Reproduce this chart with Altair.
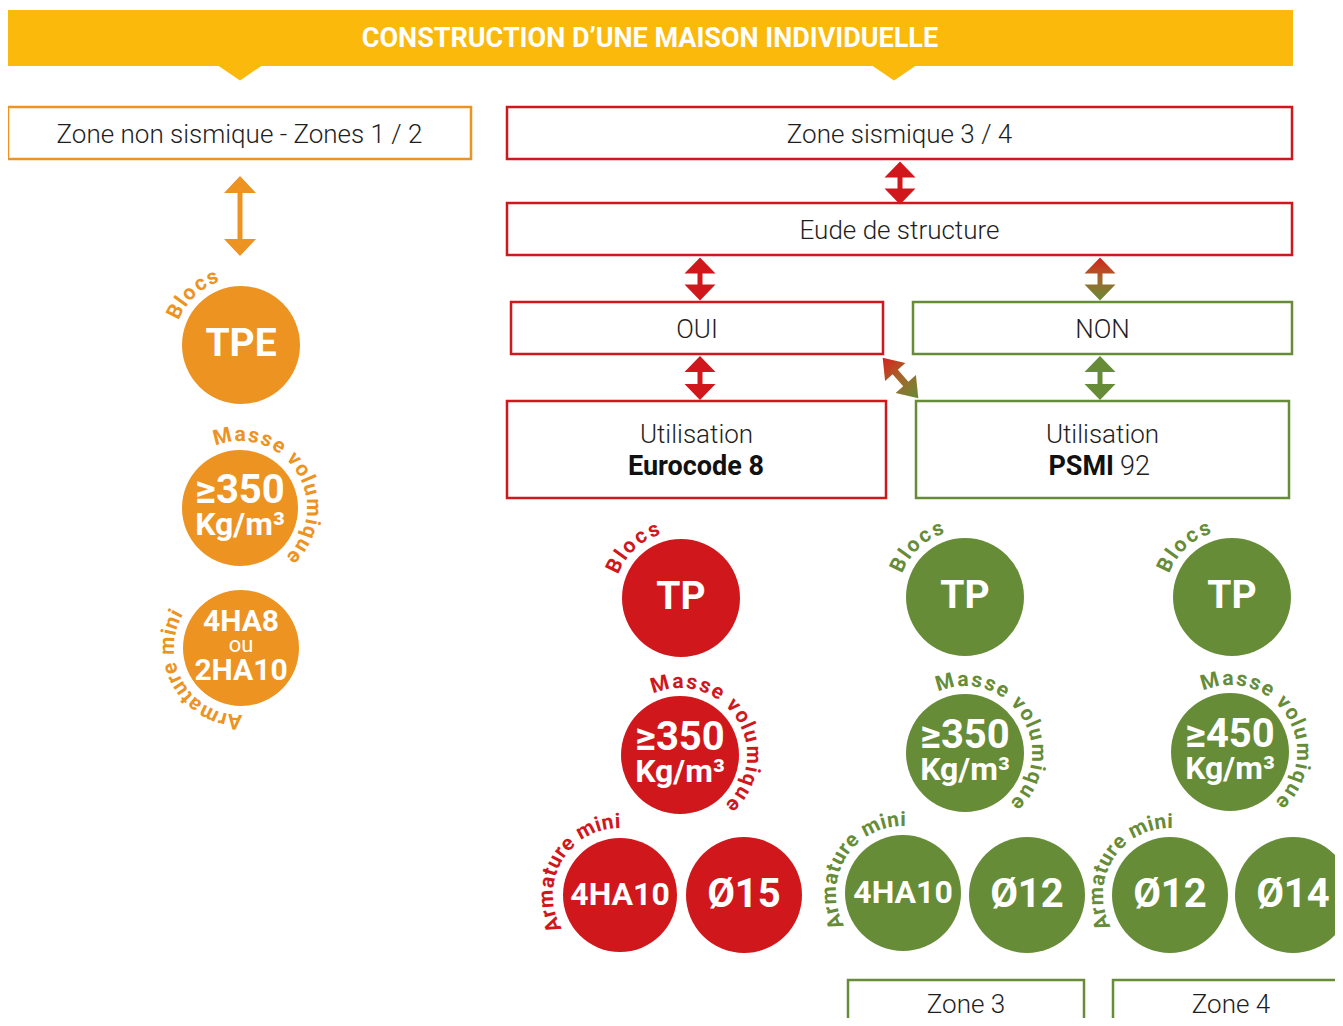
import math
import altair as alt
import pandas as pd

# ---------------- colours ----------------
ORANGE = "#EC9322"
RED = "#D0171C"
GREEN = "#668C38"
YELLOW = "#FBBA0B"
INK = "#1E1E1E"

# ---------------- content (texts / values) ----------------
title_text = "CONSTRUCTION D\u2019UNE MAISON INDIVIDUELLE"

box_labels = ["Zone non sismique - Zones 1 / 2", "Zone sismique 3 / 4", "Eude de structure",
              "OUI", "NON", "Utilisation", "Utilisation", "Zone 3", "Zone 4"]
box_colors = [ORANGE, RED, RED, RED, GREEN, RED, GREEN, GREEN, GREEN]
bold_labels = ["Eurocode 8", "PSMI"]
regular_labels = ["92"]

circle_colors = [ORANGE, ORANGE, ORANGE, RED, RED, RED, RED,
                 GREEN, GREEN, GREEN, GREEN, GREEN, GREEN, GREEN, GREEN]
circle_lines = [["TPE"], ["\u2265350", "Kg/m\u00b3"], ["4HA8", "ou", "2HA10"],
                ["TP"], ["\u2265350", "Kg/m\u00b3"], ["4HA10"], ["\u00d815"],
                ["TP"], ["\u2265350", "Kg/m\u00b3"], ["4HA10"], ["\u00d812"],
                ["TP"], ["\u2265450", "Kg/m\u00b3"], ["\u00d812"], ["\u00d814"]]

curve_labels = ["Blocs", "Masse volumique", "Armature mini",
                "Blocs", "Masse volumique", "Armature mini",
                "Blocs", "Masse volumique", "Armature mini",
                "Blocs", "Masse volumique", "Armature mini"]
curve_circle = [0, 1, 2, 3, 4, 5, 7, 8, 9, 11, 12, 13]

# ---------------- layout ----------------
W, H = 1327, 1010
XS = alt.Scale(domain=[8, 8 + W], nice=False, zero=False)
YS = alt.Scale(domain=[8, 8 + H], nice=False, zero=False, reverse=True)

box_x = [8, 507, 507, 511, 913, 507, 916, 848, 1113]
box_x2 = [471, 1292, 1292, 883, 1292, 886, 1289, 1084, 1352]
box_y = [107, 107, 203, 302, 302, 401, 401, 980, 980]
box_y2 = [159, 159, 255, 354, 354, 498, 498, 1045, 1045]
box_ty = [135, 135, 231, 330, 330, 435, 435, 1005, 1005]

circle_x = [241, 240, 241, 681, 680, 620, 744, 965, 965, 903, 1027, 1232, 1230, 1170, 1293]
circle_y = [345, 508, 648, 598, 755, 895, 895, 597, 753, 893, 895, 597, 752, 895, 895]
circle_r = [59, 58, 58, 59, 59, 57, 58, 59, 59, 58, 58, 59, 59, 58, 58]

curve_start = [207, 256, 95, 206, 254, 156, 206, 254, 157, 206, 254, 158]
curve_end = [247, 402, 208, 248, 403, 268, 248, 403, 270, 248, 403, 270]
curve_radius = 73
curve_size = 21

# per-line text style inside circles: (dy, size, bold)
def line_styles(lines):
    if len(lines) == 3:
        return [(-26, 30, True), (-3, 22, False), (23, 30, True)]
    if len(lines) == 2:
        return [(-17, 40, True), (17, 32, True)]
    t = lines[0]
    if t.startswith("\u00d8"):
        return [(0, 40, True)]
    if t.startswith("4HA"):
        return [(0, 32, True)]
    return [(-1, 39, True)]


def X(f="x"):
    return alt.X(f"{f}:Q", scale=XS, axis=None)


def Y(f="y"):
    return alt.Y(f"{f}:Q", scale=YS, axis=None)


def arrow_path(length, head_w, head_h, shaft_w):
    s = length / 2.0
    a = head_w / 2.0 / s
    b = 1 - head_h / s
    c = shaft_w / 2.0 / s
    pts = [(0, -1), (a, -b), (c, -b), (c, b), (a, b), (0, 1),
           (-a, b), (-c, b), (-c, -b), (-a, -b)]
    return "M" + "L".join(f"{px:.4f},{py:.4f}" for px, py in pts) + "Z"


layers = []

# banner
banner = pd.DataFrame({"x": [8], "x2": [1293], "y": [10], "y2": [66]})
layers.append(alt.Chart(banner).mark_rect(color=YELLOW).encode(
    x=X(), x2="x2:Q", y=Y(), y2="y2:Q"))
tri = pd.DataFrame({"x": [240, 894], "y": [66, 66]})
layers.append(alt.Chart(tri).mark_point(
    shape="M-1,-0.1L1,-0.1L0,0.58Z", filled=True, color=YELLOW, opacity=1,
    strokeWidth=0, size=2500).encode(x=X(), y=Y()))
layers.append(alt.Chart(pd.DataFrame({"t": [title_text], "x": [650], "y": [39]})).mark_text(
    font="Roboto", fontWeight="bold", fontSize=27, color="white", baseline="middle",
    align="center").encode(x=X(), y=Y(), text="t:N"))

# boxes
boxes = pd.DataFrame({"x": box_x, "x2": box_x2, "y": box_y, "y2": box_y2,
                      "col": box_colors, "t": box_labels, "ty": box_ty,
                      "tx": [(a + min(b, 1350)) / 2 for a, b in zip(box_x, box_x2)]})
boxes.loc[8, "tx"] = 1231
layers.append(alt.Chart(boxes).mark_rect(fill="white", strokeWidth=2.5).encode(
    x=X(), x2="x2:Q", y=Y(), y2="y2:Q", stroke=alt.Stroke("col:N", scale=None)))
layers.append(alt.Chart(boxes).mark_text(
    font="Roboto", fontWeight=300, fontSize=26, color=INK, baseline="middle", align="center"
).encode(x=X("tx"), y=Y("ty"), text="t:N"))

bold_df = pd.DataFrame({"t": bold_labels, "x": [696, 1114], "y": [467, 467]})
layers.append(alt.Chart(bold_df.iloc[[0]]).mark_text(
    font="Roboto", fontWeight="bold", fontSize=27, color="#111", baseline="middle",
    align="center").encode(x=X(), y=Y(), text="t:N"))
layers.append(alt.Chart(bold_df.iloc[[1]]).mark_text(
    font="Roboto", fontWeight="bold", fontSize=27, color="#111", baseline="middle",
    align="right").encode(x=X(), y=Y(), text="t:N"))
layers.append(alt.Chart(pd.DataFrame({"t": regular_labels, "x": [1120], "y": [467]})).mark_text(
    font="Roboto", fontWeight=300, fontSize=27, color=INK, baseline="middle",
    align="left").encode(x=X(), y=Y(), text="t:N"))

# solid arrows
arrows = pd.DataFrame({
    "x": [240, 900, 700, 700, 1100],
    "y": [216, 183, 279, 378, 378],
    "shape": [arrow_path(80, 32, 17, 5), arrow_path(43, 31, 16, 5), arrow_path(43, 31, 16, 5),
              arrow_path(44, 31, 16, 5), arrow_path(44, 31, 16, 5)],
    "len": [80, 43, 43, 44, 44],
    "col": [ORANGE, RED, RED, RED, GREEN],
})
arrows["size"] = arrows["len"] ** 2
layers.append(alt.Chart(arrows).mark_point(filled=True, opacity=1, strokeWidth=0).encode(
    x=X(), y=Y(), shape=alt.Shape("shape:N", scale=None),
    size=alt.Size("size:Q", scale=None), color=alt.Color("col:N", scale=None)))

grad = alt.LinearGradient(gradient="linear", x1=0, y1=0, x2=0, y2=1,
                          stops=[alt.GradientStop(color="#D8201C", offset=0),
                                 alt.GradientStop(color="#A2672A", offset=0.5),
                                 alt.GradientStop(color=GREEN, offset=1)])
layers.append(alt.Chart(pd.DataFrame({"x": [1100], "y": [279]})).mark_point(
    filled=True, opacity=1, strokeWidth=0, fill=grad, shape=arrow_path(43, 31, 16, 5),
    size=43 ** 2).encode(x=X(), y=Y()))
layers.append(alt.Chart(pd.DataFrame({"x": [900.5], "y": [378], "a": [318.7]})).mark_point(
    filled=True, opacity=1, strokeWidth=0, fill=grad, shape=arrow_path(54, 27, 19, 7),
    size=54 ** 2).encode(x=X(), y=Y(), angle=alt.Angle("a:Q", scale=None)))

# circles (Vega circle symbol: radius = sqrt(size) / 2)
circ = pd.DataFrame({"x": circle_x, "y": circle_y, "col": circle_colors,
                     "size": [(2 * r) ** 2 for r in circle_r]})
layers.append(alt.Chart(circ).mark_circle(opacity=1).encode(
    x=X(), y=Y(), size=alt.Size("size:Q", scale=None), color=alt.Color("col:N", scale=None)))

rows_b, rows_r = [], []
for i, lines in enumerate(circle_lines):
    for t, (dy, sz, bold) in zip(lines, line_styles(lines)):
        row = {"t": t, "x": circle_x[i], "y": circle_y[i] + dy, "s": sz}
        (rows_b if bold else rows_r).append(row)
layers.append(alt.Chart(pd.DataFrame(rows_b)).mark_text(
    font="Roboto", fontWeight="bold", color="white", baseline="middle", align="center"
).encode(x=X(), y=Y(), text="t:N", size=alt.Size("s:Q", scale=None)))
layers.append(alt.Chart(pd.DataFrame(rows_r)).mark_text(
    font="Roboto", color="white", baseline="middle", align="center"
).encode(x=X(), y=Y(), text="t:N", size=alt.Size("s:Q", scale=None)))

# curved labels
CW = {"M": .87, "a": .54, "s": .52, "e": .54, " ": .26, "v": .5, "o": .57, "l": .26,
      "u": .57, "m": .87, "i": .26, "q": .57, "B": .63, "c": .52, "A": .66, "r": .36,
      "t": .35, "n": .57}
rows_c = []
for lab, ci, a0, a1 in zip(curve_labels, curve_circle, curve_start, curve_end):
    widths = [CW.get(ch, .55) for ch in lab]
    centers, acc = [], 0.0
    for w in widths:
        centers.append(acc + w / 2)
        acc += w
    span = centers[-1] - centers[0]
    for ch, c in zip(lab, centers):
        if ch == " ":
            continue
        th = a0 + (c - centers[0]) / span * (a1 - a0)
        rad = math.radians(th)
        rows_c.append({"t": ch, "x": circle_x[ci] + curve_radius * math.cos(rad),
                       "y": circle_y[ci] + curve_radius * math.sin(rad),
                       "a": (th + 90) % 360, "col": circle_colors[ci]})
layers.append(alt.Chart(pd.DataFrame(rows_c)).mark_text(
    font="Roboto", fontWeight="bold", fontSize=curve_size, baseline="middle", align="center"
).encode(x=X(), y=Y(), text="t:N", angle=alt.Angle("a:Q", scale=None),
         color=alt.Color("col:N", scale=None)))

chart = alt.layer(*layers).properties(
    width=W, height=H, padding=0, autosize=alt.AutoSizeParams(type="none")
).configure_view(strokeWidth=0, stroke=None)

chart.save("out.html", embed_options={"renderer": "svg", "actions": False})
